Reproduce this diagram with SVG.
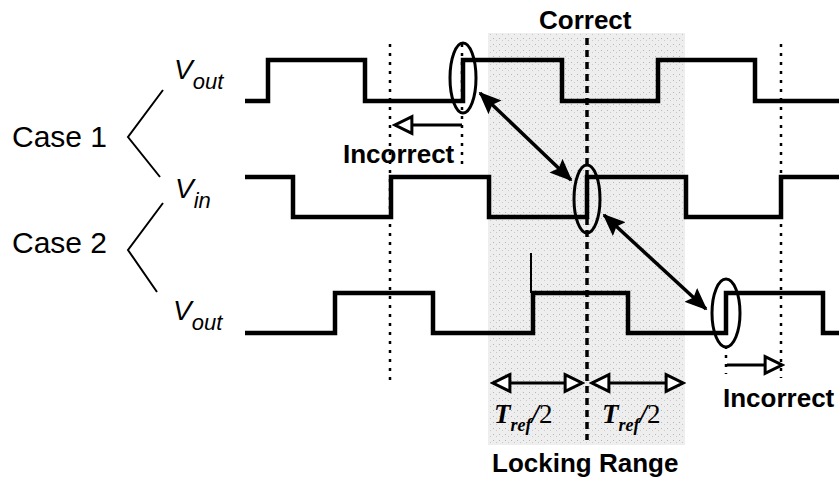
<svg xmlns="http://www.w3.org/2000/svg" width="839" height="482" viewBox="0 0 839 482">
<defs>
<marker id="solid" viewBox="0 0 12 10" refX="11" refY="5" markerWidth="6.5" markerHeight="5.4" markerUnits="strokeWidth" orient="auto-start-reverse"><path d="M0,0 L12,5 L0,10 L2,5 z" fill="#000"/></marker>
<marker id="open" viewBox="0 0 12 12" refX="10.5" refY="6" markerWidth="7.5" markerHeight="7.5" markerUnits="strokeWidth" orient="auto-start-reverse"><path d="M1.5,1.5 L10.5,6 L1.5,10.5 z" fill="#fff" stroke="#000" stroke-width="1.6"/></marker>
<pattern id="stip" width="6" height="6" patternUnits="userSpaceOnUse"><rect width="6" height="6" fill="#eeeeee"/><rect x="1" y="2" width="1" height="1" fill="#b5b5b5"/><rect x="4" y="4" width="1" height="1" fill="#c8c8c8"/></pattern>
</defs>
<style>
.wave{fill:none;stroke:#000;stroke-width:4.5;stroke-linejoin:miter;stroke-linecap:butt}
.dot{stroke:#000;stroke-width:2.5;stroke-dasharray:3 6;fill:none}
.dash{stroke:#000;stroke-width:3.5;stroke-dasharray:7 5;fill:none}
.ell{fill:none;stroke:#000;stroke-width:3}
.brk{fill:none;stroke:#000;stroke-width:2}
.sarr{stroke:#000;stroke-width:3.5;fill:none;marker-start:url(#solid);marker-end:url(#solid)}
.oarr{stroke:#000;stroke-width:3;fill:none}
.bold{font-family:"Liberation Sans",Arial,sans-serif;font-weight:bold;font-size:26px;fill:#000}
.case{font-family:"Liberation Sans",Arial,sans-serif;font-size:30px;fill:#000}
.sig{font-family:"Liberation Sans",Arial,sans-serif;font-style:italic;font-size:28px;fill:#000}
.sub{font-size:22px}
.tref{font-family:"Liberation Serif","Times New Roman",serif;font-style:italic;font-weight:bold;font-size:27px;fill:#000}
.tsub{font-size:18px}
.two{font-style:normal;font-weight:normal}
</style>
<g id="locking-range-shade"><rect x="488" y="33" width="197" height="412" fill="url(#stip)"/></g>
<g id="guides">
<line class="dot" x1="390" y1="44" x2="390" y2="385"/>
<line class="dot" x1="462" y1="44" x2="462" y2="165"/>
<line class="dash" x1="587" y1="38" x2="587" y2="440"/>
<line class="dot" x1="781" y1="44" x2="781" y2="378"/>
<line class="dot" x1="726" y1="346" x2="726" y2="374"/>
</g>
<g id="labels-left">
<text class="case" x="12" y="147">Case 1</text>
<text class="case" x="12" y="253">Case 2</text>
<polyline class="brk" points="163,90 128,137 160,177"/>
<polyline class="brk" points="163,203 128,250 157,292"/>
<text class="sig" x="174" y="79">V<tspan class="sub" dy="10">out</tspan></text>
<text class="sig" x="175" y="198">V<tspan class="sub" dy="10">in</tspan></text>
<text class="sig" x="173" y="320">V<tspan class="sub" dy="10">out</tspan></text>
</g>
<g id="vout-case1"><path class="wave" d="M245,101 H268 V60 H365 V101 H463 V60 H562 V101 H658 V60 H755 V101 H839"/></g>
<g id="vin"><path class="wave" d="M245,177 H293 V217 H391 V177 H489 V217 H587 V177 H686 V217 H781 V177 H839"/></g>
<g id="vout-case2"><path class="wave" d="M245,333 H335 V293 H433 V333 H533 V293 H628 V333 H726 V293 H823 V333 H839"/>
<line x1="531" y1="253" x2="531" y2="293" stroke="#000" stroke-width="2"/></g>
<g id="markers">
<ellipse class="ell" cx="463" cy="78" rx="13" ry="35"/>
<ellipse class="ell" cx="587" cy="199" rx="13" ry="34"/>
<ellipse class="ell" cx="726" cy="313" rx="14" ry="34"/>
</g>
<g id="connectors">
<line class="sarr" x1="480" y1="93" x2="571" y2="180"/>
<line class="sarr" x1="604" y1="215" x2="706" y2="309"/>
<line class="oarr" x1="462" y1="125" x2="395" y2="125" marker-end="url(#open)"/>
<line class="oarr" x1="727" y1="365" x2="782" y2="365" marker-end="url(#open)"/>
<line class="oarr" x1="493" y1="383" x2="582" y2="383" marker-start="url(#open)" marker-end="url(#open)"/>
<line class="oarr" x1="592" y1="383" x2="683" y2="383" marker-start="url(#open)" marker-end="url(#open)"/>
</g>
<g id="texts">
<text class="bold" x="539" y="29">Correct</text>
<text class="bold" x="343" y="163">Incorrect</text>
<text class="bold" x="723" y="407">Incorrect</text>
<text class="bold" x="492" y="472">Locking Range</text>
<text class="tref" x="494" y="423">T<tspan class="tsub" dy="8">ref</tspan><tspan dy="-8">/</tspan><tspan class="two">2</tspan></text>
<text class="tref" x="602" y="423">T<tspan class="tsub" dy="8">ref</tspan><tspan dy="-8">/</tspan><tspan class="two">2</tspan></text>
</g>
</svg>
